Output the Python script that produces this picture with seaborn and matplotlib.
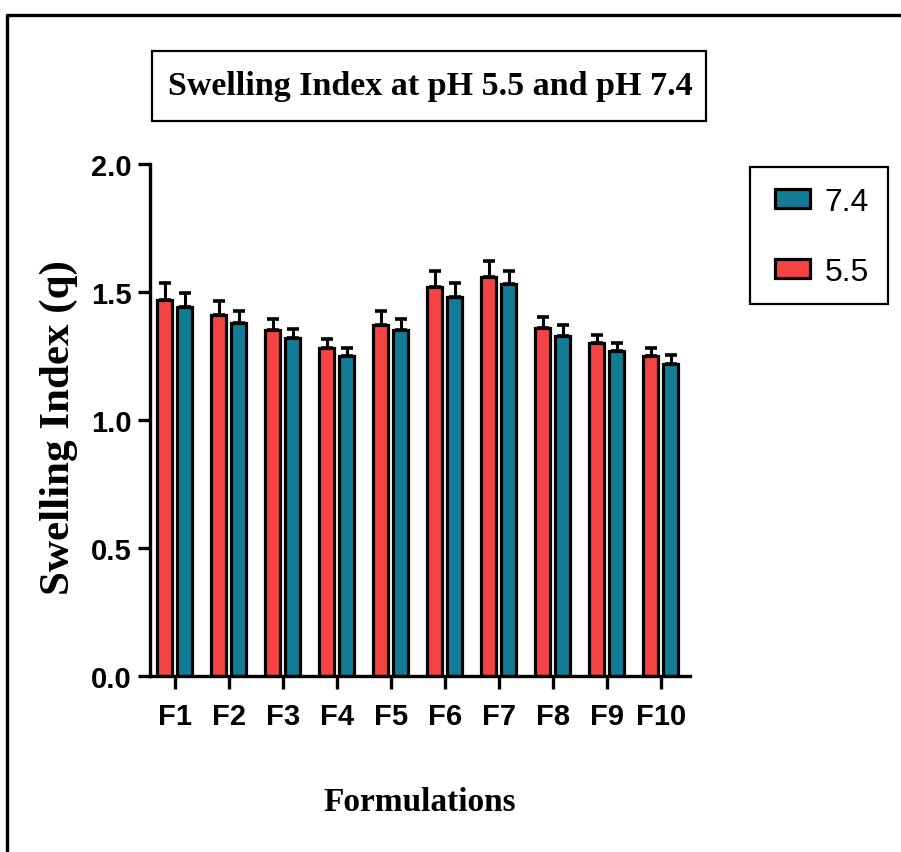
import matplotlib
matplotlib.use("Agg")
import matplotlib.pyplot as plt
from matplotlib.lines import Line2D
from matplotlib.patches import Patch, Rectangle
import numpy as np
import pandas as pd
import seaborn as sns

formulations = ["F1", "F2", "F3", "F4", "F5", "F6", "F7", "F8", "F9", "F10"]
si_55 = [1.47, 1.41, 1.35, 1.28, 1.37, 1.52, 1.56, 1.36, 1.30, 1.25]
si_74 = [1.44, 1.38, 1.32, 1.25, 1.35, 1.48, 1.53, 1.33, 1.27, 1.22]
err_55 = [0.065, 0.055, 0.044, 0.035, 0.056, 0.063, 0.062, 0.043, 0.033, 0.032]
err_74 = [0.055, 0.045, 0.034, 0.032, 0.044, 0.056, 0.052, 0.043, 0.032, 0.035]
ph_levels = ["5.5", "7.4"]
colors = {"5.5": "#F64444", "7.4": "#127C96"}
yticks = [0.0, 0.5, 1.0, 1.5, 2.0]

df = pd.DataFrame({
    "Formulation": formulations * 2,
    "Swelling": si_55 + si_74,
    "pH": ["5.5"] * len(formulations) + ["7.4"] * len(formulations),
})

sns.set_style("ticks")
sans = ["Liberation Sans", "DejaVu Sans"]
serif = ["Liberation Serif", "DejaVu Serif"]
plt.rcParams["font.family"] = sans
for k in ["text.color", "axes.labelcolor", "xtick.color", "ytick.color", "axes.edgecolor"]:
    plt.rcParams[k] = "black"

W, H = 901, 853
fig = plt.figure(figsize=(W / 100, H / 100), dpi=100)
ax = fig.add_axes([150 / W, 1 - 677 / H, 540 / W, 512 / H])

sns.barplot(data=df, x="Formulation", y="Swelling", hue="pH", hue_order=ph_levels,
            order=formulations, palette=colors, saturation=1, width=0.74, gap=0.25,
            errorbar=None, edgecolor="black", linewidth=2.3, ax=ax, legend=False)

for cont, errs in zip(ax.containers, [err_55, err_74]):
    xs = [p.get_x() + p.get_width() / 2 for p in cont]
    hs = [p.get_height() for p in cont]
    ax.errorbar(xs, hs, yerr=[np.zeros(len(errs)), errs], fmt="none",
                ecolor="black", elinewidth=2.2, capsize=4, capthick=2.6, zorder=1)

ax.set_ylim(0, 2.0)
ax.set_xlim(-0.46, 9.54)
ax.set_yticks(yticks)
ax.set_yticklabels([f"{v:.1f}" for v in yticks])
for s in ["top", "right"]:
    ax.spines[s].set_visible(False)
for s in ["left", "bottom"]:
    ax.spines[s].set_linewidth(2.4)
ax.tick_params(axis="both", length=9, width=2.4, pad=4, labelsize=21, colors="black")
for lab in ax.get_xticklabels() + ax.get_yticklabels():
    lab.set_fontweight("bold")
    lab.set_family(sans)
ax.tick_params(axis="x", pad=10)

ax.set_xlabel("Formulations", family=serif, fontweight="bold", fontsize=24, labelpad=40)
ax.set_ylabel("Swelling Index (q)", family=serif, fontweight="bold", fontsize=31)
ax.yaxis.set_label_coords(-0.134, 0.488)

# Title with frame
fig.text(430 / W, 1 - 87 / H, "Swelling Index at pH 5.5 and pH 7.4", family=serif,
         fontweight="bold", fontsize=24.5, ha="center", va="center")
fig.add_artist(Rectangle((152 / W, 1 - 122 / H), 554 / W, 70 / H, transform=fig.transFigure,
                         facecolor="none", edgecolor="black", linewidth=1.6))

# Legend (7.4 first, then 5.5) with separate frame
fig.add_artist(Rectangle((750 / W, 1 - 305 / H), 138 / W, 137 / H, transform=fig.transFigure,
                         facecolor="none", edgecolor="black", linewidth=1.6))
handles = [Patch(facecolor=colors["7.4"], edgecolor="black", linewidth=2.3, label="7.4"),
           Patch(facecolor=colors["5.5"], edgecolor="black", linewidth=2.3, label="5.5")]
leg = fig.legend(handles=handles, loc="upper left", bbox_to_anchor=(775 / W, 1 - 188 / H),
                 fontsize=23, frameon=False,
                 handlelength=1.1, handleheight=0.55, handletextpad=0.45,
                 labelspacing=1.25, borderpad=0, borderaxespad=0)
for t in leg.get_texts():
    t.set_family(sans)
    t.set_color("black")

# outer frame (left and top edges)
fig.add_artist(Line2D([7 / W, 7 / W, 1.0], [0.0, 1 - 16 / H, 1 - 16 / H],
                      color="black", linewidth=2.4, transform=fig.transFigure))

fig.savefig("out.png", dpi=100)
